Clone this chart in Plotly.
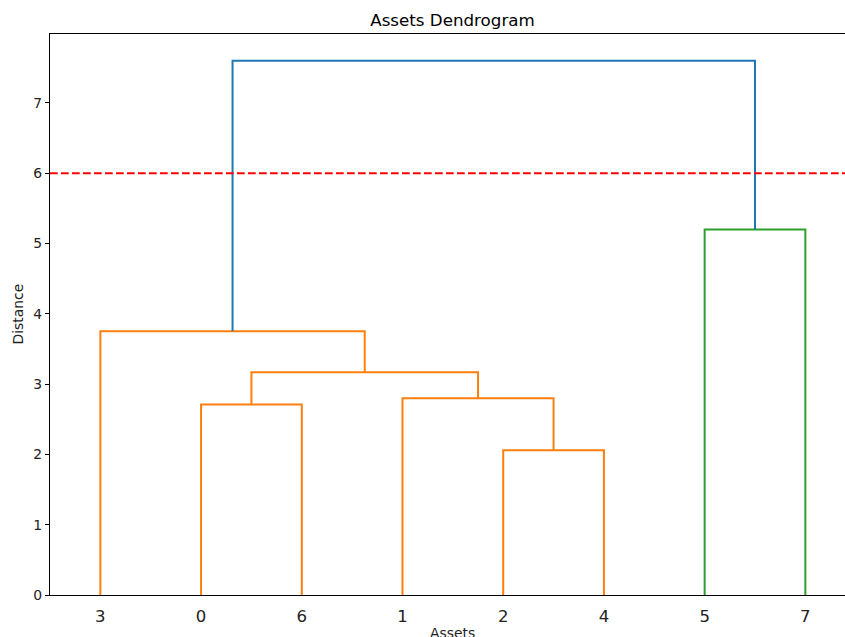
import plotly.graph_objects as go

# Leaf labels (asset ids) and linkage rows: [left id, right id, merge distance]
leaf_names = ["0", "1", "2", "3", "4", "5", "6", "7"]
linkage = [
    [2, 4, 2.06],
    [0, 6, 2.71],
    [1, 8, 2.80],
    [9, 10, 3.17],
    [3, 11, 3.75],
    [5, 7, 5.20],
    [12, 13, 7.60],
]
cut_height = 6.0

n = len(leaf_names)
color_threshold = 0.7 * max(row[2] for row in linkage)
above_color = "#1f77b4"
cluster_palette = ["#ff7f0e", "#2ca02c", "#d62728", "#9467bd"]


def children(node):
    return linkage[node - n][:2] if node >= n else None


def leaf_order(node):
    ch = children(node)
    if ch is None:
        return [node]
    return leaf_order(ch[0]) + leaf_order(ch[1])


root = n + len(linkage) - 1
order = leaf_order(root)
xpos = {leaf: 5 + 10 * i for i, leaf in enumerate(order)}
ypos = {leaf: 0.0 for leaf in order}

# assign colours: each subtree merging below the threshold gets its own colour
node_color = {}
palette_idx = [0]


def paint(node, color):
    node_color[node] = color
    ch = children(node)
    if ch:
        for c in ch:
            paint(c, color)


def assign(node):
    ch = children(node)
    if ch is None:
        return
    h = linkage[node - n][2]
    if h < color_threshold:
        paint(node, cluster_palette[palette_idx[0] % len(cluster_palette)])
        palette_idx[0] += 1
    else:
        node_color[node] = above_color
        for c in ch:
            assign(c)


assign(root)

fig = go.Figure()
for k, (a, b, h) in enumerate(linkage):
    node = n + k
    xpos[node] = (xpos[a] + xpos[b]) / 2
    ypos[node] = h
    fig.add_trace(go.Scatter(
        x=[xpos[a], xpos[a], xpos[b], xpos[b]],
        y=[ypos[a], h, h, ypos[b]],
        mode="lines",
        line=dict(color=node_color[node], width=2),
        hoverinfo="skip",
        showlegend=False,
    ))

fig.add_shape(type="line", xref="paper", x0=0, x1=1, yref="y", y0=cut_height, y1=cut_height,
              line=dict(color="red", width=2, dash="7.7px,3.3px"))

font = "DejaVu Sans"
fig.update_layout(
    width=845, height=637,
    margin=dict(l=50, r=0, t=34, b=42),
    paper_bgcolor="white", plot_bgcolor="white",
    font=dict(family=font, color="black"),
    title=dict(text="Assets Dendrogram", x=452.5 / 845, xref="container", xanchor="center",
               y=1 - 20 / 637, yanchor="middle", font=dict(size=16.7, family=font, color="black")),
    xaxis=dict(range=[0, 795 / (705 / 70)], tickvals=[xpos[l] for l in order],
               ticktext=[leaf_names[l] for l in order], ticks="", showgrid=False, zeroline=False,
               showline=True, linecolor="black", linewidth=1.1, mirror=True,
               tickfont=dict(size=16.5, family=font, color="#222"), ticklabelstandoff=6),
    yaxis=dict(range=[0, 7.98], tickvals=list(range(0, 8)), ticks="outside", ticklen=4,
               tickwidth=1.1, tickcolor="black", showgrid=False, zeroline=False,
               showline=True, linecolor="black", linewidth=1.1,
               tickfont=dict(size=13.9, family=font, color="#222")),
    annotations=[
        dict(text="Assets", xref="paper", yref="paper", x=(452.5 - 50) / 795, y=0, yshift=-38,
             xanchor="center", yanchor="middle", showarrow=False,
             font=dict(size=13.9, family=font, color="#222")),
        dict(text="Distance", xref="paper", yref="paper", x=0, xshift=-33, y=0.5,
             xanchor="center", yanchor="middle", textangle=-90, showarrow=False,
             font=dict(size=13.9, family=font, color="#222")),
    ],
)

fig.write_html("out.html")
